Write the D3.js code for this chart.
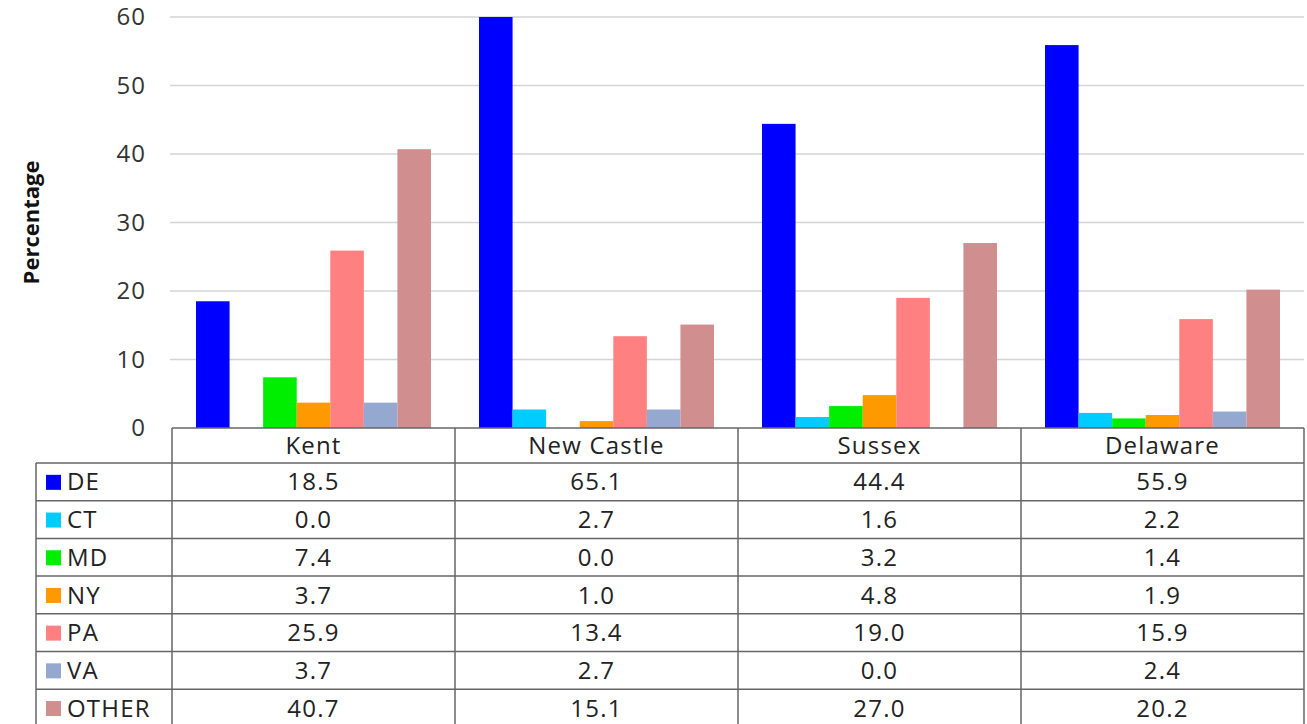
<!DOCTYPE html>
<meta charset="utf-8">
<style>
body { margin: 0; background: #fff; font-family: "Open Sans", "Lato", Arial, sans-serif; }
.grid line { stroke: #d4d4d4; stroke-width: 1.5; }
.tick-label { font-size: 24px; fill: #333; letter-spacing: 1px; }
.cell { font-size: 24px; fill: #222; letter-spacing: 1.2px; }
.tbl line { stroke: #666; stroke-width: 1.5; }
</style>
<svg width="1307" height="724"></svg>
<script src="https://d3js.org/d3.v7.min.js"></script>
<script>

var counties = ["Kent", "New Castle", "Sussex", "Delaware"];
var states = ["DE", "CT", "MD", "NY", "PA", "VA", "OTHER"];
var colors = ["#0000ff", "#00ccff", "#00ee00", "#ff9900", "#ff8080", "#94a8d0", "#d08e8e"];
var yTicks = [0, 10, 20, 30, 40, 50, 60];

// one array per state, values in county order
var DE    = [18.5, 65.1, 44.4, 55.9];
var CT    = [0.0, 2.7, 1.6, 2.2];
var MD    = [7.4, 0.0, 3.2, 1.4];
var NY    = [3.7, 1.0, 4.8, 1.9];
var PA    = [25.9, 13.4, 19.0, 15.9];
var VA    = [3.7, 2.7, 0.0, 2.4];
var OTHER = [40.7, 15.1, 27.0, 20.2];

var series = [DE, CT, MD, NY, PA, VA, OTHER];

var svg = d3.select("svg");

var plotLeft = 172, plotRight = 1304, plotTop = 17, plotBottom = 428;
var gap = 24;

var y = d3.scaleLinear().domain([0, 60]).range([plotBottom, plotTop]);
var x0 = d3.scaleBand().domain(counties).range([plotLeft, plotRight]);
var x1 = d3.scaleBand().domain(states).range([gap, x0.bandwidth() - gap]);
var color = d3.scaleOrdinal().domain(states).range(colors);

// gridlines
svg.append("g").attr("class", "grid")
  .selectAll("line")
  .data(yTicks.filter(function(d) { return d > 0; }))
  .enter().append("line")
  .attr("x1", plotLeft - 2).attr("x2", plotRight)
  .attr("y1", function(d) { return y(d); })
  .attr("y2", function(d) { return y(d); });

// y tick labels
svg.append("g")
  .selectAll("text")
  .data(yTicks)
  .enter().append("text")
  .attr("class", "tick-label")
  .attr("x", 146)
  .attr("y", function(d) { return y(d); })
  .attr("dy", "0.35em")
  .attr("text-anchor", "end")
  .text(function(d) { return d; });

svg.append("text")
  .attr("transform", "translate(39," + ((plotTop + plotBottom) / 2) + ") rotate(-90)")
  .attr("text-anchor", "middle")
  .style("font-size", "22px")
  .style("font-weight", "bold")
  .style("fill", "#111")
  .text("Percentage");

// bars, clipped to the plot area
svg.append("clipPath").attr("id", "plotclip")
  .append("rect")
  .attr("x", plotLeft).attr("y", plotTop)
  .attr("width", plotRight - plotLeft).attr("height", plotBottom - plotTop);

var bars = [];
series.forEach(function(vals, si) {
  vals.forEach(function(v, ci) {
    bars.push({ state: states[si], county: counties[ci], value: v });
  });
});

svg.append("g").attr("clip-path", "url(#plotclip)")
  .selectAll("rect")
  .data(bars)
  .enter().append("rect")
  .attr("x", function(d) { return x0(d.county) + x1(d.state); })
  .attr("width", x1.bandwidth())
  .attr("y", function(d) { return y(d.value); })
  .attr("height", function(d) { return y(0) - y(d.value); })
  .attr("fill", function(d) { return color(d.state); });

// data table
var headerBottom = 463, rowH = 37.7, tableLeft = 36;
var row = d3.scaleBand().domain(states)
  .range([headerBottom, headerBottom + rowH * states.length]);

var tbl = svg.append("g").attr("class", "tbl");

// horizontal rules
tbl.append("line")
  .attr("x1", plotLeft).attr("x2", plotRight)
  .attr("y1", plotBottom).attr("y2", plotBottom);
tbl.selectAll("line.h")
  .data(states)
  .enter().append("line").attr("class", "h")
  .attr("x1", tableLeft).attr("x2", plotRight)
  .attr("y1", function(d) { return row(d); })
  .attr("y2", function(d) { return row(d); });

// vertical rules
var bottom = 724;
tbl.append("line")
  .attr("x1", tableLeft).attr("x2", tableLeft)
  .attr("y1", headerBottom).attr("y2", bottom);
tbl.selectAll("line.v")
  .data(counties.concat(["end"]))
  .enter().append("line").attr("class", "v")
  .attr("x1", function(d) { return d === "end" ? plotRight : x0(d); })
  .attr("x2", function(d) { return d === "end" ? plotRight : x0(d); })
  .attr("y1", plotBottom).attr("y2", bottom);

// header
svg.append("g")
  .selectAll("text")
  .data(counties)
  .enter().append("text")
  .attr("class", "cell")
  .attr("x", function(d) { return x0(d) + x0.bandwidth() / 2; })
  .attr("y", (plotBottom + headerBottom) / 2)
  .attr("dy", "0.36em")
  .attr("text-anchor", "middle")
  .text(function(d) { return d; });

// legend column
var leg = svg.append("g")
  .selectAll("g")
  .data(states)
  .enter().append("g")
  .attr("transform", function(d) { return "translate(0," + (row(d) + row.bandwidth() / 2) + ")"; });

leg.append("rect")
  .attr("x", 46).attr("y", -7)
  .attr("width", 15).attr("height", 15)
  .attr("fill", function(d) { return color(d); });

leg.append("text")
  .attr("class", "cell")
  .attr("x", 67)
  .attr("dy", "0.36em")
  .text(function(d) { return d; });

// values
svg.append("g")
  .selectAll("text")
  .data(bars)
  .enter().append("text")
  .attr("class", "cell")
  .attr("x", function(d) { return x0(d.county) + x0.bandwidth() / 2; })
  .attr("y", function(d) { return row(d.state) + row.bandwidth() / 2; })
  .attr("dy", "0.36em")
  .attr("text-anchor", "middle")
  .text(function(d) { return d.value.toFixed(1); });

</script>
